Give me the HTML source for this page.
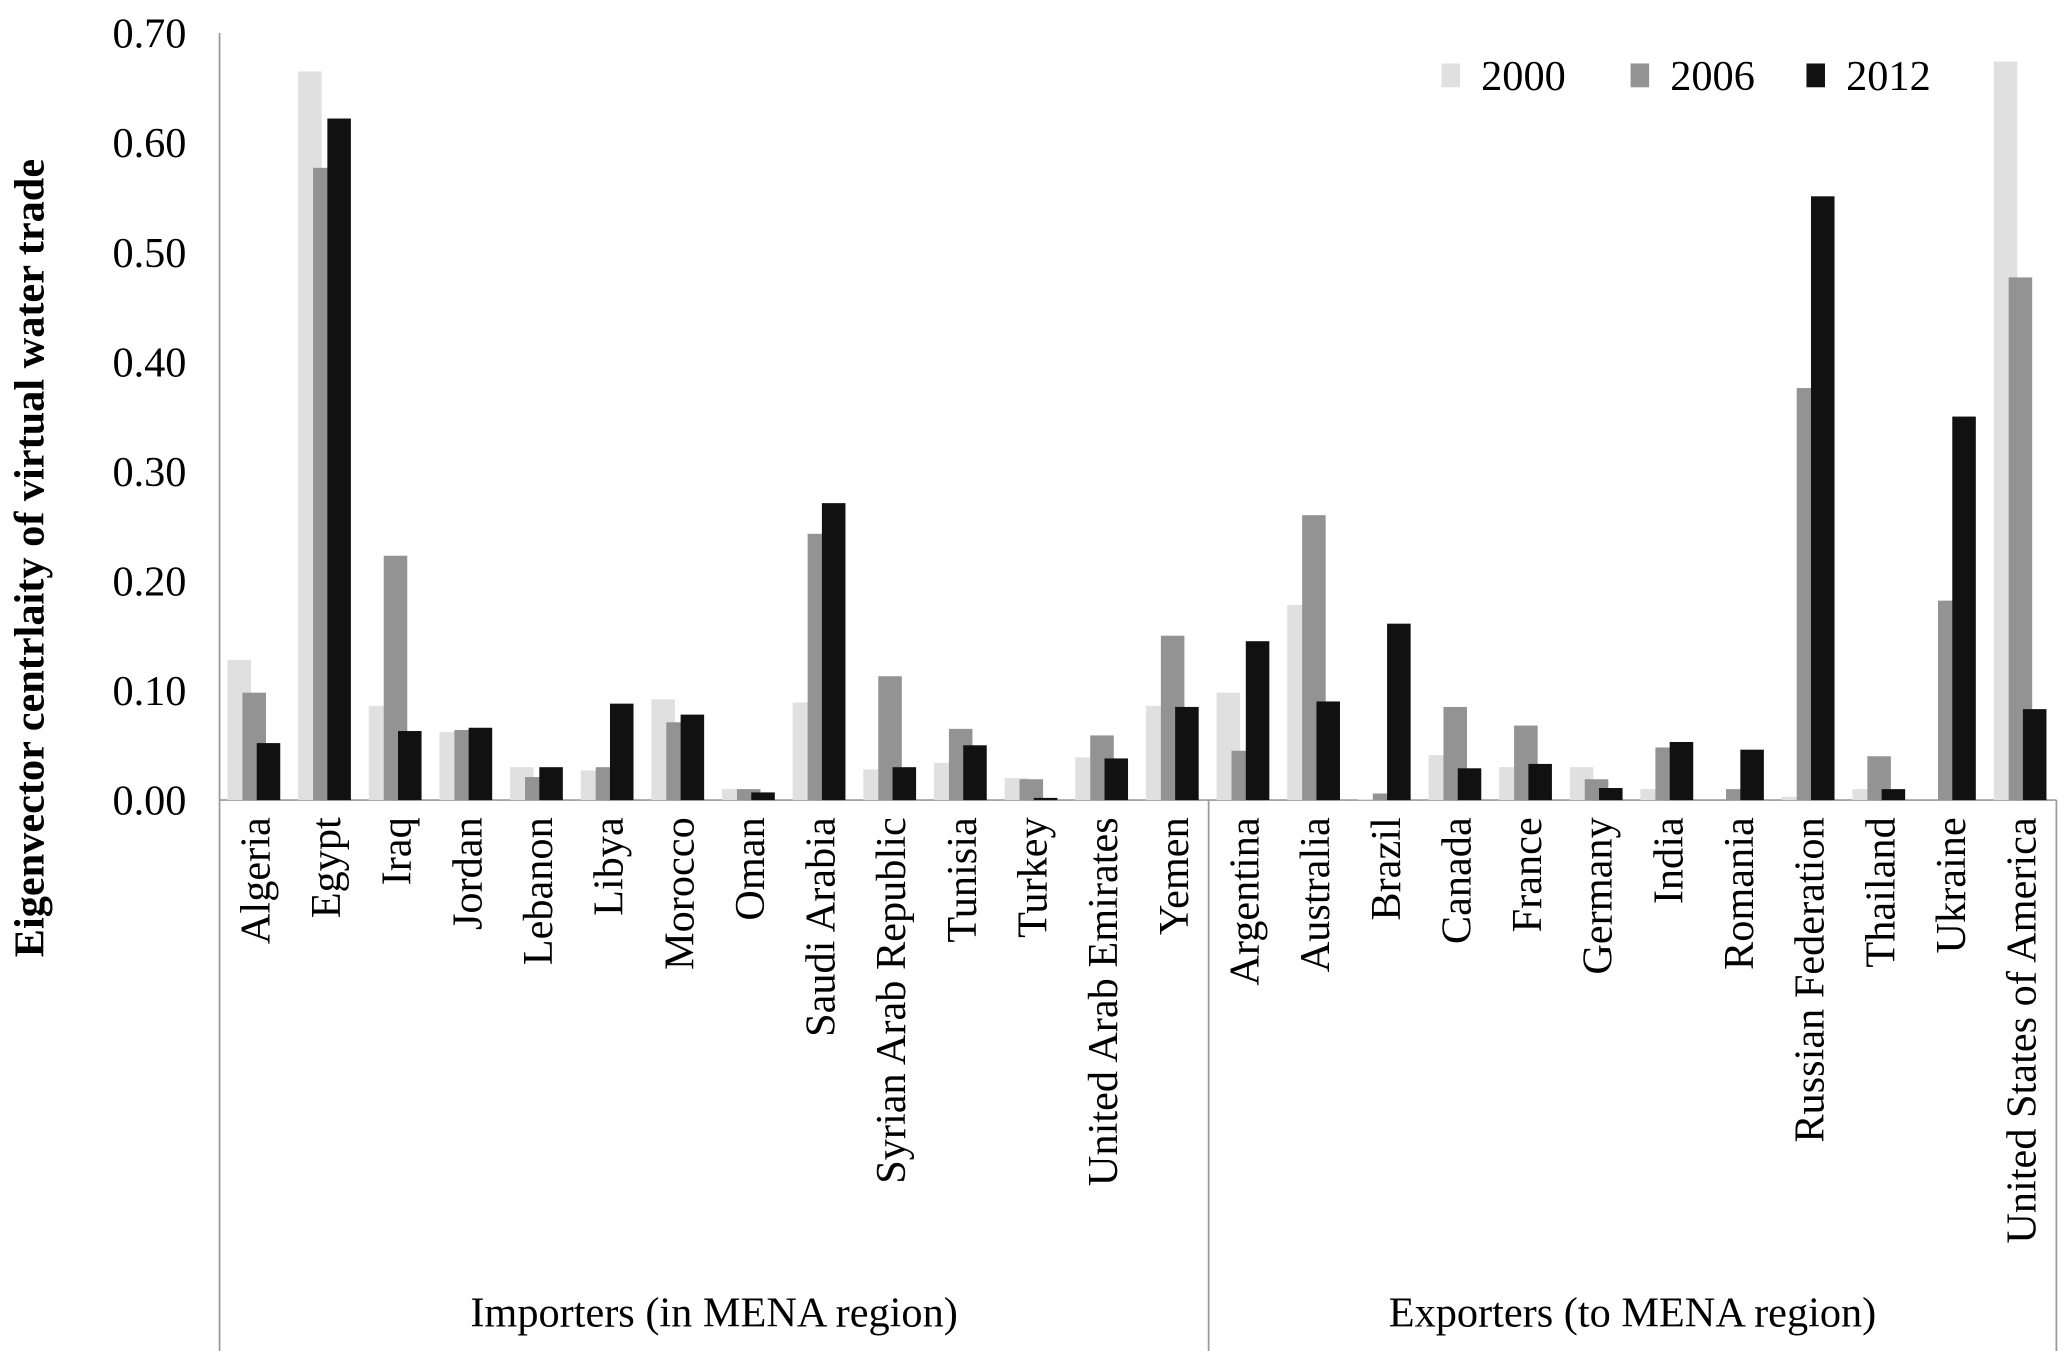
<!DOCTYPE html>
<html><head><meta charset="utf-8"><style>
html,body{margin:0;padding:0;background:#fff}
svg{display:block}
text{font-family:"Liberation Serif",serif;fill:#000}
</style></head><body>
<svg id="chart" width="2067" height="1351" viewBox="0 0 1563 1021.6" xmlns="http://www.w3.org/2000/svg"></svg>
<script>
const categories = ["Algeria","Egypt","Iraq","Jordan","Lebanon","Libya","Morocco","Oman","Saudi Arabia","Syrian Arab Republic","Tunisia","Turkey","United Arab Emirates","Yemen","Argentina","Australia","Brazil","Canada","France","Germany","India","Romania","Russian Federation","Thailand","Ukraine","United States of America"];
const series2000 = [0.128,0.665,0.086,0.062,0.030,0.027,0.092,0.010,0.089,0.028,0.034,0.020,0.039,0.086,0.098,0.178,0.001,0.041,0.030,0.030,0.010,0.000,0.003,0.010,0.000,0.674];
const series2006 = [0.098,0.577,0.223,0.064,0.021,0.030,0.071,0.010,0.243,0.113,0.065,0.019,0.059,0.150,0.045,0.260,0.006,0.085,0.068,0.019,0.048,0.010,0.376,0.040,0.182,0.477];
const series2012 = [0.052,0.622,0.063,0.066,0.030,0.088,0.078,0.007,0.271,0.030,0.050,0.002,0.038,0.085,0.145,0.090,0.161,0.029,0.033,0.011,0.053,0.046,0.551,0.010,0.350,0.083];
const seriesNames = ["2000","2006","2012"];
const yTicks = ["0.00","0.10","0.20","0.30","0.40","0.50","0.60","0.70"];
const groups = ["Importers (in MENA region)","Exporters (to MENA region)"];
const groupSizes = [14,12];

const NS="http://www.w3.org/2000/svg";
const svg=document.getElementById('chart');
const X0=166,X1=1555,Y0=605,YT=25,YMAX=0.70,BOTTOM=1318;
const colors=["#e0e0e0","#939393","#111111"];
const band=(X1-X0)/categories.length;
const xC=i=>X0+band*(i+0.5);
const y=v=>Y0-(v/YMAX)*(Y0-YT);
function mk(tag,attrs,parent){const e=document.createElementNS(NS,tag);for(const k in attrs)e.setAttribute(k,attrs[k]);(parent||svg).appendChild(e);return e;}

yTicks.forEach(t=>{
  const tx=mk('text',{x:141,y:y(parseFloat(t))+11,'text-anchor':'end','font-size':32});
  tx.textContent=t;
  
  
});
const yt=mk('text',{x:0,y:0,transform:`translate(33,422) rotate(-90)`,'text-anchor':'middle','font-size':32,'font-weight':'bold'});
yt.textContent="Eigenvector centrlaity of virtual water trade";



const ya=mk('line',{x1:X0,y1:YT,x2:X0,y2:BOTTOM,stroke:'#999','stroke-width':1.3});


const xa=mk('line',{x1:X0,y1:Y0,x2:X1,y2:Y0,stroke:'#999','stroke-width':1.3});



const allSeries=[series2000,series2006,series2012];
const offs=[-20.7,-9.4,1.4],bw=17.8;
allSeries.forEach((s,si)=>{
  s.forEach((v,i)=>{
    const r=mk('rect',{x:xC(i)+offs[si],y:y(v),width:bw,height:Math.max(0,Y0-y(v)),fill:colors[si]});
    
    
  });
});

categories.forEach((c,i)=>{
  const t=mk('text',{x:0,y:0,transform:`translate(${xC(i)+11},618) rotate(-90)`,'text-anchor':'end','font-size':32});
  t.textContent=c;
  
  
});

let start=0;
groups.forEach((g,gi)=>{
  const end=start+groupSizes[gi];
  const xe=X0+band*end;
  const ln=mk('line',{x1:xe,y1:Y0,x2:xe,y2:BOTTOM,stroke:'#999','stroke-width':1.3});
  
  
  const t=mk('text',{x:X0+band*(start+end)/2,y:1003,'text-anchor':'middle','font-size':32});
  t.textContent=g;
  
  
  start=end;
});

const lx=[1090,1233,1366];
seriesNames.forEach((n,si)=>{
  const r=mk('rect',{x:lx[si],y:48,width:14,height:18,fill:colors[si]});
  
  
  const t=mk('text',{x:lx[si]+30,y:68,'font-size':32});
  t.textContent=n;
  
  
});
</script>
</body></html>
